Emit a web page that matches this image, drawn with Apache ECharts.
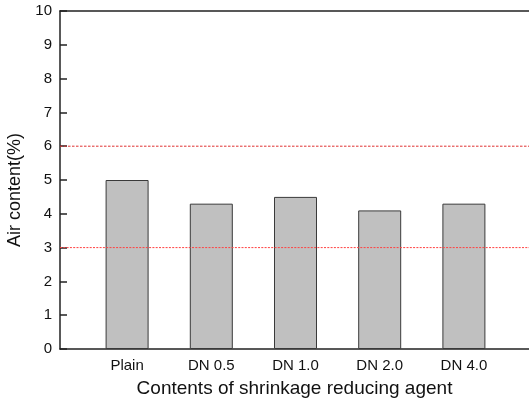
<!DOCTYPE html>
<html>
<head>
<meta charset="utf-8">
<script src="https://cdn.jsdelivr.net/npm/echarts@6/dist/echarts.min.js"></script>
<style>html,body{margin:0;padding:0;background:#fff}#c{width:529px;height:401px}</style>
</head>
<body>
<div id="c"></div>
<script>
const categories = ['Plain', 'DN 0.5', 'DN 1.0', 'DN 2.0', 'DN 4.0'];
const airContent = [5.0, 4.3, 4.5, 4.1, 4.3];
const upperLimit = 6;
const lowerLimit = 3;
const yTicks = [0, 1, 2, 3, 4, 5, 6, 7, 8, 9, 10];

const chart = echarts.init(document.getElementById('c'));
const font = 'Liberation Sans, Arial, sans-serif';
chart.setOption({
  animation: false,
  backgroundColor: '#fff',
  grid: [
    {left: 60, right: 0, top: 11, bottom: 52, containLabel: false, outerBoundsMode: 'none'},
    {left: 85, right: 23, top: 11, bottom: 52, containLabel: false, outerBoundsMode: 'none'}
  ],
  xAxis: [
    {gridIndex: 0, type: 'value', min: 0, max: 1, position: 'bottom',
     axisLine: {show: true, lineStyle: {color: '#222', width: 1.5}},
     axisTick: {show: false}, axisLabel: {show: false}, splitLine: {show: false},
     name: 'Contents of shrinkage reducing agent', nameLocation: 'middle', nameGap: 30,
     nameTextStyle: {fontFamily: font, fontSize: 19, color: '#111'}},
    {gridIndex: 0, type: 'value', min: 0, max: 1, position: 'top',
     axisLine: {show: true, lineStyle: {color: '#222', width: 1.5}},
     axisTick: {show: false}, axisLabel: {show: false}, splitLine: {show: false}},
    {gridIndex: 1, type: 'category', data: categories,
     axisLine: {show: false}, axisTick: {show: false}, splitLine: {show: false},
     axisLabel: {margin: 9, fontFamily: font, fontSize: 15, color: '#111'}}
  ],
  yAxis: [
    {gridIndex: 0, type: 'value', min: yTicks[0], max: yTicks[yTicks.length - 1], interval: 1,
     axisLine: {show: true, lineStyle: {color: '#222', width: 1.5}},
     axisTick: {show: true, inside: true, length: 7, lineStyle: {color: '#222', width: 1.5}},
     axisLabel: {margin: 8, fontFamily: font, fontSize: 15, color: '#111'},
     splitLine: {show: false},
     name: 'Air content(%)', nameLocation: 'middle', nameGap: 25, nameRotate: 90,
     nameTextStyle: {fontFamily: font, fontSize: 18, color: '#111', padding: [0, 20, 0, 0]}},
    {gridIndex: 1, type: 'value', min: yTicks[0], max: yTicks[yTicks.length - 1], show: false}
  ],
  series: [
    {type: 'line', xAxisIndex: 0, yAxisIndex: 0, symbol: 'none', silent: true,
     data: [[0, upperLimit], [1, upperLimit]],
     lineStyle: {color: '#e03030', width: 1, type: [2.5, 1.5]}},
    {type: 'line', xAxisIndex: 0, yAxisIndex: 0, symbol: 'none', silent: true,
     data: [[0, lowerLimit], [1, lowerLimit]],
     lineStyle: {color: '#ff4040', width: 1, type: [2, 1.3]}},
    {type: 'bar', xAxisIndex: 2, yAxisIndex: 1, data: airContent, barWidth: 43,
     itemStyle: {color: '#c0c0c0', borderColor: '#3a3a3a', borderWidth: 1}}
  ]
});
</script>
</body>
</html>
